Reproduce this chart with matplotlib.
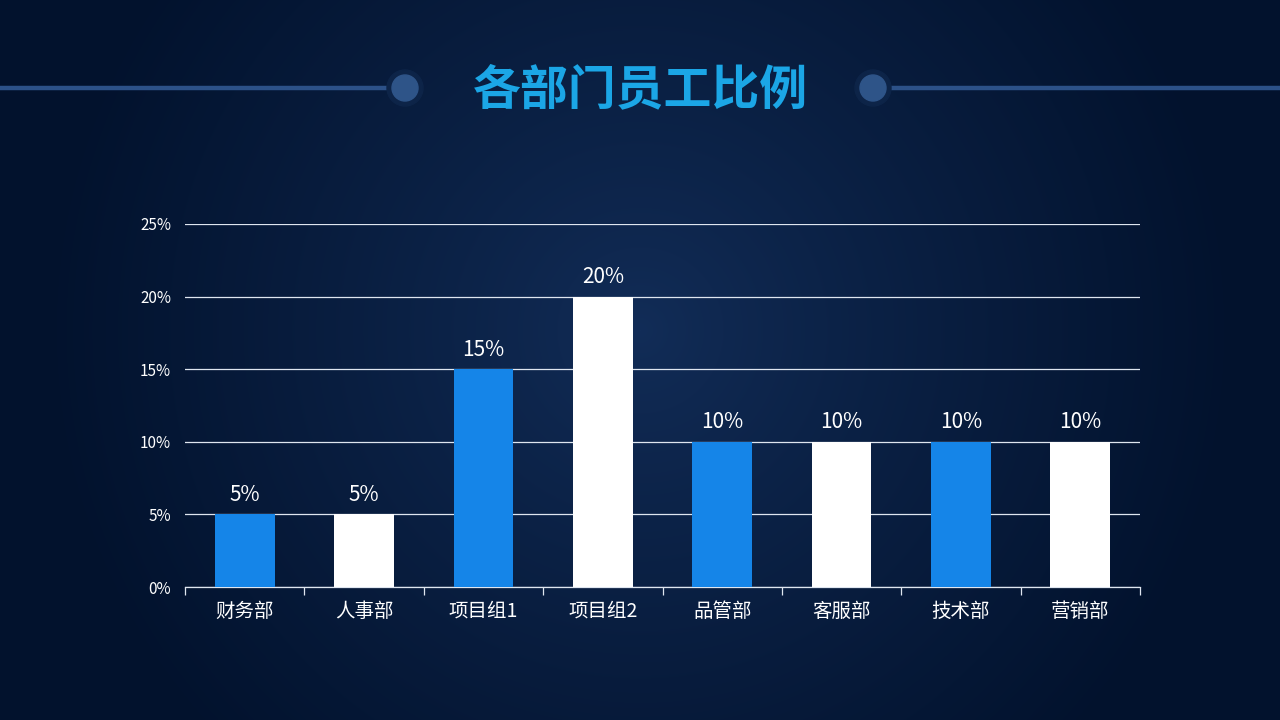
import numpy as np
import matplotlib
matplotlib.use("Agg")
import matplotlib.pyplot as plt
from matplotlib.patches import Circle

plt.rcParams['font.family'] = ['Noto Sans CJK SC', 'DejaVu Sans']

categories = ['财务部', '人事部', '项目组1', '项目组2', '品管部', '客服部', '技术部', '营销部']
values = [5, 5, 15, 20, 10, 10, 10, 10]
yticks = [0, 5, 10, 15, 20, 25]
title = '各部门员工比例'

blue = '#1585e8'
white = '#ffffff'
bar_colors = [blue if i % 2 == 0 else white for i in range(len(values))]

W, H = 1280, 720
fig = plt.figure(figsize=(12.8, 7.2), dpi=100)

# background radial gradient
bg = fig.add_axes([0, 0, 1, 1])
yy, xx = np.mgrid[0:H, 0:W]
cx, cy = 640, 330
r = np.sqrt((xx - cx) ** 2 + (yy - cy) ** 2)
t = np.clip(r / 600.0, 0, 1) ** 0.85
c0 = np.array([0x12, 0x2d, 0x58]) / 255.0
c1 = np.array([0x02, 0x12, 0x2d]) / 255.0
img = c0[None, None, :] * (1 - t[..., None]) + c1[None, None, :] * t[..., None]
bg.imshow(img, extent=[0, W, H, 0], aspect='auto', zorder=0)
bg.set_xlim(0, W)
bg.set_ylim(H, 0)
bg.axis('off')

# decorative lines and circles
line_col = '#2c5188'
bg.plot([0, 392], [88, 88], color=line_col, lw=3.2, solid_capstyle='butt', zorder=1)
bg.plot([886, 1280], [88, 88], color=line_col, lw=3.2, solid_capstyle='butt', zorder=1)
for x in (405, 873):
    bg.add_patch(Circle((x, 88), 18, color='#0d2448', zorder=2))
    bg.add_patch(Circle((x, 88), 13, color='#2e5488', zorder=3))

fig.text(0.5, 1 - 90 / H, title, ha='center', va='center', fontsize=34.5,
         fontweight='bold', color='#1ba6e6')

ax = fig.add_axes([185 / W, 133 / H, 955 / W, 363 / H])
ax.set_facecolor('none')
x = np.arange(len(categories))
ax.bar(x, values, width=0.5, color=bar_colors, zorder=3)
ax.set_xlim(-0.5, len(categories) - 0.5)
ax.set_ylim(0, 25)
ax.set_yticks(yticks)
ax.set_yticklabels([f'{v}%' for v in yticks], color='white', fontsize=11)
ax.yaxis.grid(True, color='#dfe6f0', lw=0.9, zorder=0)
ax.tick_params(axis='y', length=0, pad=10)
ax.set_xticks(x)
ax.set_xticklabels(categories, color='white', fontsize=14)
ax.tick_params(axis='x', which='major', length=0, pad=10)
ax.set_xticks(np.arange(-0.5, len(categories)), minor=True)
ax.tick_params(axis='x', which='minor', length=6, color='#dfe6f0', width=0.9)
for s in ['top', 'right', 'left']:
    ax.spines[s].set_visible(False)
ax.spines['bottom'].set_color('#dfe6f0')
ax.spines['bottom'].set_linewidth(0.9)

for xi, v in zip(x, values):
    ax.annotate(f'{v}%', (xi, v), xytext=(0, 6), textcoords='offset points',
                ha='center', va='bottom', color='white', fontsize=15)

fig.savefig('out.png', dpi=100)
